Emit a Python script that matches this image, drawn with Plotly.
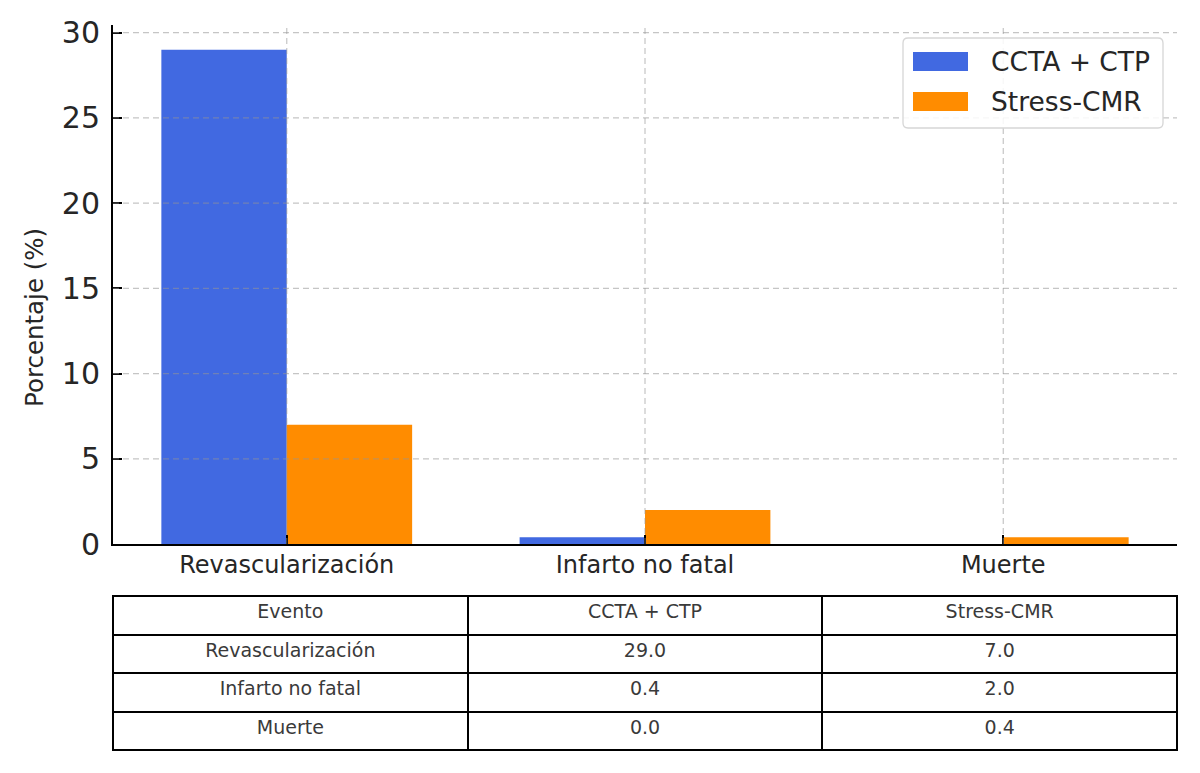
import plotly.graph_objects as go

# ---------------- data ----------------
categories = ["Revascularización", "Infarto no fatal", "Muerte"]
ccta_ctp = [29.0, 0.4, 0.0]
stress_cmr = [7.0, 2.0, 0.4]
series_names = ["CCTA + CTP", "Stress-CMR"]
table_header = ["Evento", "CCTA + CTP", "Stress-CMR"]
y_ticks = [0, 5, 10, 15, 20, 25, 30]
y_title = "Porcentaje (%)"

# ---------------- style ----------------
W, H = 1200, 773
BLUE = "#4169E1"
ORANGE = "#FF8C00"
FONT = "DejaVu Sans"
TXT = "#262626"
GRID = "rgba(150,150,150,0.55)"


def px(x):
    return x / W


def py(y):
    return 1 - y / H


fig = go.Figure()
fig.add_trace(go.Bar(x=categories, y=ccta_ctp, name=series_names[0],
                     marker=dict(color=BLUE, line=dict(width=0)), showlegend=False))
fig.add_trace(go.Bar(x=categories, y=stress_cmr, name=series_names[1],
                     marker=dict(color=ORANGE, line=dict(width=0)), showlegend=False))

# table
fig.add_trace(go.Table(
    domain=dict(x=[px(113), px(1177)], y=[py(752), py(596)]),
    columnwidth=[1, 1, 1],
    header=dict(values=table_header, fill_color="white", align="center",
                line=dict(color="black", width=2), height=38.5,
                font=dict(family=FONT, size=19, color="#3a3a3a")),
    cells=dict(values=[categories,
                       [f"{v:.1f}" for v in ccta_ctp],
                       [f"{v:.1f}" for v in stress_cmr]],
               fill_color="white", align="center",
               line=dict(color="black", width=2), height=38.5,
               font=dict(family=FONT, size=19, color="#3a3a3a")),
))

fig.update_layout(
    template="none",
    width=W, height=H,
    margin=dict(l=0, r=0, t=0, b=0, pad=0, autoexpand=False),
    paper_bgcolor="white", plot_bgcolor="white",
    barmode="group", bargap=0.3, bargroupgap=0,
    font=dict(family=FONT, color=TXT),
    showlegend=False,
    xaxis=dict(domain=[px(113), px(1177)], range=[-0.485, 2.485], automargin=False,
               showgrid=False, zeroline=False,
               showline=True, linecolor="black", linewidth=2, mirror=False,
               ticks="inside", ticklen=9, tickwidth=1.5, tickcolor="black",
               tickfont=dict(family=FONT, size=24, color=TXT),
               ticklabelstandoff=-2, layer="above traces"),
    yaxis=dict(domain=[py(544), py(25)], range=[0, 30.45], automargin=False,
               tickvals=y_ticks, showgrid=False, zeroline=False,
               showline=True, linecolor="black", linewidth=2, mirror=False,
               ticks="inside", ticklen=9, tickwidth=1.5, tickcolor="black",
               tickfont=dict(family=FONT, size=30, color=TXT),
               ticklabelstandoff=5, layer="above traces"),
)

# grid lines above bars (matplotlib style)
for t in y_ticks[1:]:
    fig.add_shape(type="line", xref="x domain", yref="y", x0=0, x1=1, y0=t, y1=t,
                  line=dict(color=GRID, width=1.2, dash="6px,4px"), layer="above")
for c in categories:
    fig.add_shape(type="line", xref="x", yref="y domain", x0=c, x1=c, y0=0, y1=1,
                  line=dict(color=GRID, width=1.2, dash="6px,4px"), layer="above")

# y title
fig.add_annotation(text=y_title, xref="paper", yref="paper", x=px(35), y=py(318),
                   xanchor="center", yanchor="middle",
                   showarrow=False, textangle=-90,
                   font=dict(family=FONT, size=24.5, color=TXT))

# legend box (rounded)
lx0, lx1, ly0, ly1, r = 903, 1163, 38, 128, 5
path = (f"M {px(lx0 + r)},{py(ly0)} L {px(lx1 - r)},{py(ly0)} "
        f"Q {px(lx1)},{py(ly0)} {px(lx1)},{py(ly0 + r)} "
        f"L {px(lx1)},{py(ly1 - r)} Q {px(lx1)},{py(ly1)} {px(lx1 - r)},{py(ly1)} "
        f"L {px(lx0 + r)},{py(ly1)} Q {px(lx0)},{py(ly1)} {px(lx0)},{py(ly1 - r)} "
        f"L {px(lx0)},{py(ly0 + r)} Q {px(lx0)},{py(ly0)} {px(lx0 + r)},{py(ly0)} Z")
fig.add_shape(type="path", path=path, xref="paper", yref="paper",
              fillcolor="rgba(255,255,255,0.85)", line=dict(color="#d6d6d6", width=1.3),
              layer="above")
for i, (nm, col) in enumerate(zip(series_names, [BLUE, ORANGE])):
    cy = 61.5 + 40 * i
    fig.add_shape(type="rect", xref="paper", yref="paper",
                  x0=px(913), x1=px(968), y0=py(cy - 9.5), y1=py(cy + 9.5),
                  fillcolor=col, line=dict(width=0), layer="above")
    fig.add_annotation(text=nm, xref="paper", yref="paper", x=px(989), y=py(cy),
                       xanchor="left", yanchor="middle", showarrow=False,
                       font=dict(family=FONT, size=26.5, color=TXT))

fig.write_html("out.html")
